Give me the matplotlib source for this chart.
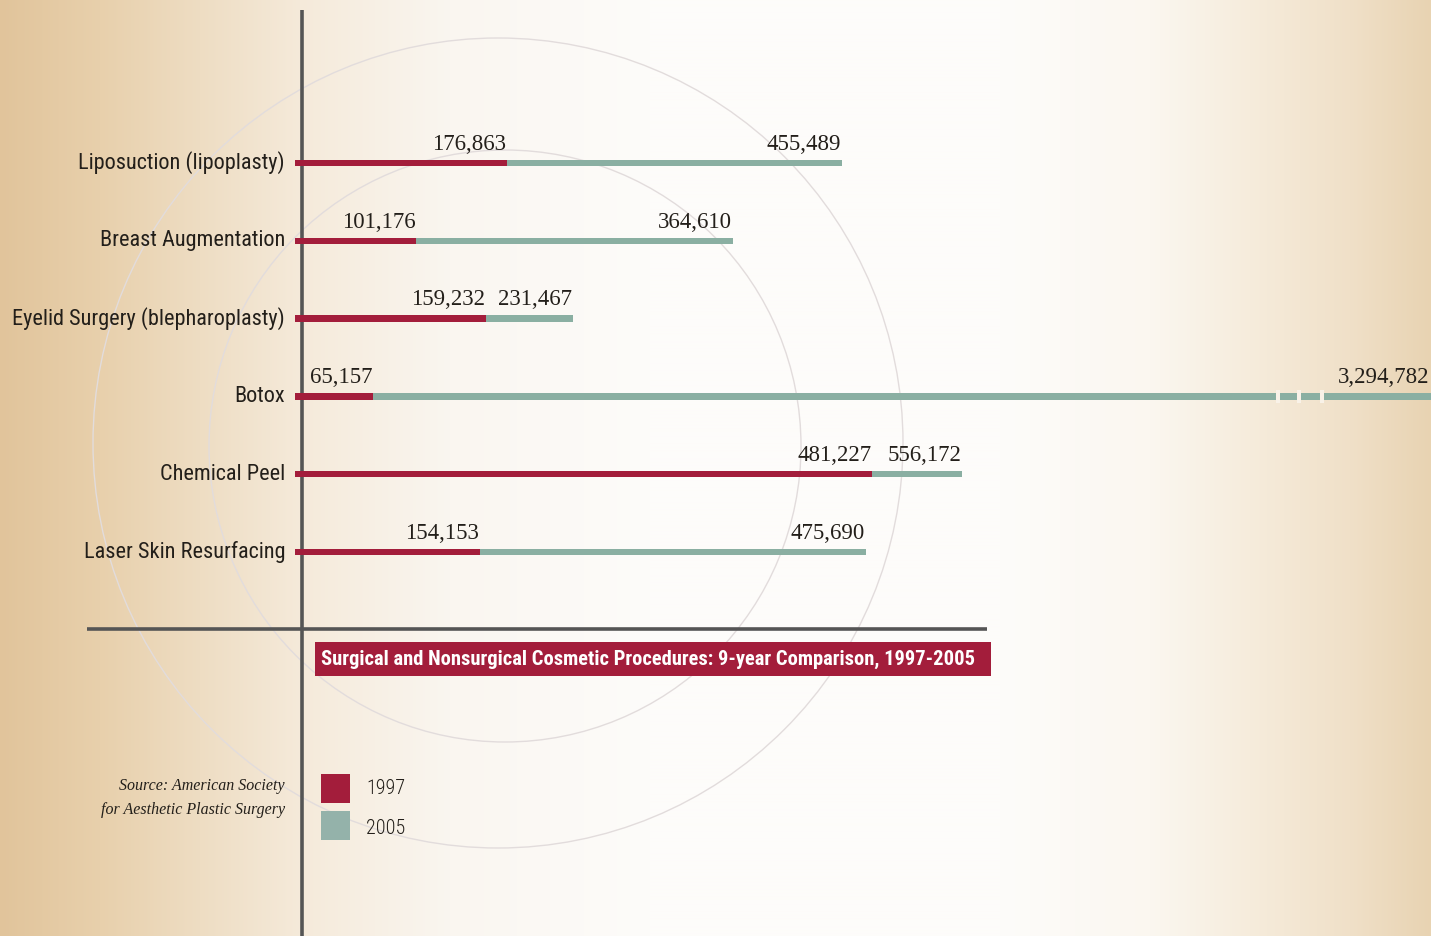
import matplotlib
matplotlib.use("Agg")
import matplotlib.pyplot as plt
import numpy as np
from matplotlib.patches import Rectangle, Circle
from matplotlib.transforms import blended_transform_factory

# ---------------- data ----------------
categories = ["Liposuction (lipoplasty)", "Breast Augmentation",
              "Eyelid Surgery (blepharoplasty)", "Botox",
              "Chemical Peel", "Laser Skin Resurfacing"]
values_1997 = [176863, 101176, 159232, 65157, 481227, 154153]
values_2005 = [455489, 364610, 231467, 3294782, 556172, 475690]
series_labels = ["1997", "2005"]
title = "Surgical and Nonsurgical Cosmetic Procedures: 9-year Comparison, 1997-2005"
source_lines = ["Source: American Society", "for Aesthetic Plastic Surgery"]

RED = "#a31d3b"
TEAL = "#8aafa2"
TEAL_LEG = "#94b2aa"
DARK = "#555555"
TXT = "#231f1a"

W, H = 1431, 936
fig = plt.figure(figsize=(W / 100, H / 100), dpi=100)

COND = ["Roboto Condensed", "DejaVu Sans"]
SERIF = ["Liberation Serif", "DejaVu Serif"]

# ---------------- background ----------------
bg = fig.add_axes([0, 0, 1, 1])
bg.set_xlim(0, W)
bg.set_ylim(H, 0)
bg.axis("off")
stops_x = [0, 100, 200, 300, 450, 650, 1000, 1150, 1250, 1350, 1431]
stops_c = np.array([
    (225, 196, 155), (232, 208, 172), (238, 221, 195), (245, 234, 218),
    (250, 246, 240), (253, 252, 250), (253, 252, 250), (251, 247, 240),
    (246, 236, 220), (240, 224, 200), (232, 211, 178)]) / 255.0
xs = np.arange(W)
grad = np.stack([np.interp(xs, stops_x, stops_c[:, k]) for k in range(3)], axis=-1)
img = np.repeat(grad[None, :, :], 8, axis=0)
bg.imshow(img, extent=[0, W, H, 0], aspect="auto", interpolation="bilinear", zorder=0)

for (cx, cy, r) in [(498, 443, 405), (505, 446, 296)]:
    bg.add_patch(Circle((cx, cy), r, fill=False, edgecolor="#e2dcdc", lw=1.0, zorder=1))

# axis lines
bg.plot([302, 302], [10, H], color=DARK, lw=2.6, solid_capstyle="butt", zorder=2)
bg.plot([87, 987], [629, 629], color=DARK, lw=2.6, solid_capstyle="butt", zorder=2)

# title box
bg.add_patch(Rectangle((315, 642), 676, 34, facecolor=RED, edgecolor="none", zorder=3))
bg.text(321, 659, title, color="white", fontsize=14.8, fontweight="bold",
        family=COND, fontstretch="condensed", ha="left", va="center", zorder=4)

# legend
leg_colors = [RED, TEAL_LEG]
for k, (lab, col) in enumerate(zip(series_labels, leg_colors)):
    y0 = 774 + 37 * k
    bg.add_patch(Rectangle((321, y0), 29, 29, facecolor=col, edgecolor="none", zorder=3))
    bg.text(366, y0 + 14 + 3 * k, lab, color=TXT, fontsize=14.5, family=COND,
            fontweight="light", fontstretch="condensed", ha="left", va="center", zorder=4)

# source
for k, line in enumerate(source_lines):
    bg.text(285, 786 + 24 * k, line, color=TXT, fontsize=11.5, style="italic",
            family=SERIF, ha="right", va="center", zorder=4)

# ---------------- bars ----------------
px_per_unit = 1.2e-3
x0_px = 295
ax = fig.add_axes([x0_px / W, 0, (W - x0_px) / W, 1])
ax.set_facecolor("none")
ax.set_xlim(0, (W - x0_px) / px_per_unit)
row_px0, row_step = 163, 77.8
ax.set_ylim((H - row_px0) / row_step, -row_px0 / row_step)
ax.axis("off")

ypos = np.arange(len(categories))
bh = 6.5 / row_step
ax.barh(ypos, values_2005, height=bh, color=TEAL, zorder=2, clip_on=True)
ax.barh(ypos, values_1997, height=bh, color=RED, zorder=3, clip_on=True)

xmax = ax.get_xlim()[1]
for i, (v1, v2) in enumerate(zip(values_1997, values_2005)):
    for v in (v1, v2):
        xv = min(v, xmax)
        ax.annotate(f"{v:,}", xy=(xv, i - bh / 2), xytext=(-1 if v <= xmax else -2, 5),
                    textcoords="offset pixels", ha="right", va="bottom",
                    fontsize=16.5, family=SERIF, color=TXT, zorder=5,
                    annotation_clip=False)
    ax.text(-10 / px_per_unit, i, categories[i], ha="right", va="center",
            fontsize=16, family=COND, fontstretch="condensed", color=TXT,
            zorder=5, clip_on=False)

# break marks on the clipped bar
tr = blended_transform_factory(ax.transAxes, ax.transData)
for i, v in enumerate(values_2005):
    if v > xmax:
        for fx in [(1276 - x0_px) / (W - x0_px), (1297 - x0_px) / (W - x0_px),
                   (1320 - x0_px) / (W - x0_px)]:
            ax.add_patch(Rectangle((fx, i - bh), 3.5 / (W - x0_px), 2 * bh,
                                   transform=tr, facecolor=(0.975, 0.95, 0.91),
                                   edgecolor="none", zorder=4))

fig.savefig("out.png", dpi=100)
